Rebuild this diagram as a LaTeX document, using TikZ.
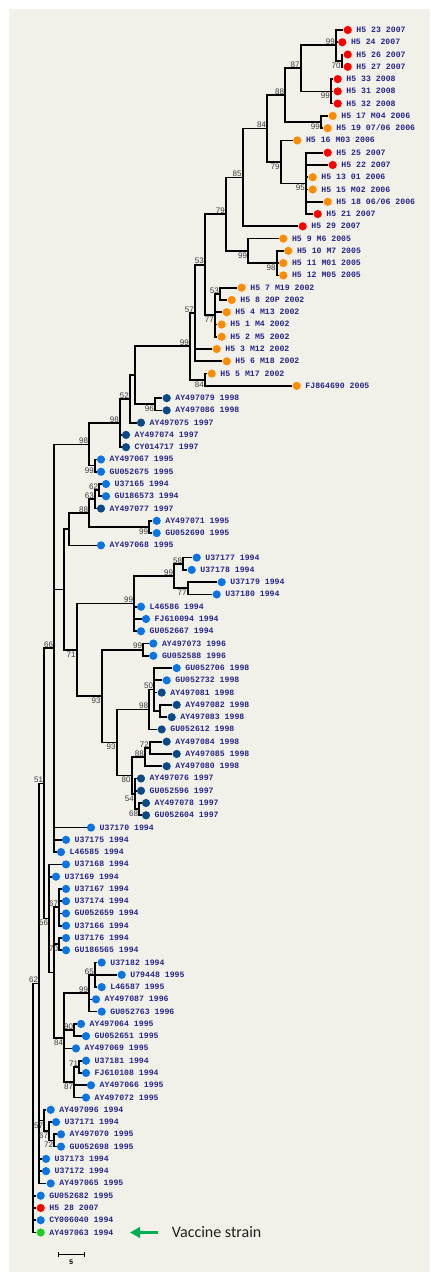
\documentclass[tikz,border=0pt]{standalone}
\usepackage{fontspec}
\usepackage{tikz}
\usetikzlibrary{arrows.meta}
\newfontfamily\taxafont{Liberation Mono}
\newfontfamily\bootfont{Liberation Sans}
\newfontfamily\notefont{Carlito}
\definecolor{paper}{HTML}{F2F1E9}
\definecolor{taxink}{RGB}{38,38,140}
\definecolor{bootink}{HTML}{3A3A3A}
\definecolor{h5red}{HTML}{FF0000}
\definecolor{h5orange}{HTML}{FF8C00}
\definecolor{oldblue}{HTML}{0A74E3}
\definecolor{navyblue}{HTML}{0B4A88}
\definecolor{vaccgreen}{HTML}{22CC22}
\definecolor{arrowgreen}{HTML}{00B050}
\newcommand{\taxon}[4]{\node[#1, label={[taxlab]right:#4}] (#2) at (#3) {};}

\begin{document}
\begin{tikzpicture}[x=1pt, y=-12.27pt, label distance=4.2pt,
    branch/.style={line width=1.7pt, black},
    taxdot/.style={circle, inner sep=0pt, minimum size=8.2pt},
    reddot/.style={taxdot, fill=h5red},
    orangedot/.style={taxdot, fill=h5orange},
    bluedot/.style={taxdot, fill=oldblue},
    navydot/.style={taxdot, fill=navyblue},
    greendot/.style={taxdot, fill=vaccgreen},
    taxlab/.style={font=\taxafont\bfseries\fontsize{8.2pt}{9pt}\selectfont, text=taxink, inner sep=0pt, text height=5pt, text depth=0pt},
    bsup/.style={font=\bootfont\fontsize{8pt}{9pt}\selectfont, text=bootink, inner sep=0pt, text height=5.7pt, text depth=0pt, anchor=east, xshift=-1pt, yshift=3.6pt},
    bsdown/.style={bsup, yshift=-8.2pt},
    note/.style={font=\notefont\fontsize{16pt}{18pt}\selectfont, text=black!88, inner sep=0pt, anchor=west}]

    % Frame
    \useasboundingbox (0,-1.445) rectangle (430,102.22);
    \fill[white] (0,-1.445) rectangle (430,102.22);
    \fill[paper] (9,-0.712) rectangle (430,102.22);

    % Taxa, top to bottom
    \taxon{reddot}{h5-23}{347.7,1}{H5 23 2007}
    \taxon{reddot}{h5-24}{342.3,2}{H5 24 2007}
    \taxon{reddot}{h5-26}{347.7,3}{H5 26 2007}
    \taxon{reddot}{h5-27}{347.7,4}{H5 27 2007}
    \taxon{reddot}{h5-33}{337.7,5}{H5 33 2008}
    \taxon{reddot}{h5-31}{337.7,6}{H5 31 2008}
    \taxon{reddot}{h5-32}{337.7,7}{H5 32 2008}
    \taxon{orangedot}{h5-17}{332.7,8}{H5 17 M04 2006}
    \taxon{orangedot}{h5-19}{327.7,9}{H5 19 07/06 2006}
    \taxon{orangedot}{h5-16}{297.3,10}{H5 16 M03 2006}
    \taxon{reddot}{h5-25}{327.7,11}{H5 25 2007}
    \taxon{reddot}{h5-22}{332.7,12}{H5 22 2007}
    \taxon{orangedot}{h5-13}{312.7,13}{H5 13 01 2006}
    \taxon{orangedot}{h5-15}{312.7,14}{H5 15 M02 2006}
    \taxon{orangedot}{h5-18}{327.7,15}{H5 18 06/06 2006}
    \taxon{reddot}{h5-21}{317.7,16}{H5 21 2007}
    \taxon{reddot}{h5-29}{302.7,17}{H5 29 2007}
    \taxon{orangedot}{h5-9}{283.3,18}{H5 9 M6 2005}
    \taxon{orangedot}{h5-10}{288.3,19}{H5 10 M7 2005}
    \taxon{orangedot}{h5-11}{283.3,20}{H5 11 M01 2005}
    \taxon{orangedot}{h5-12}{283.3,21}{H5 12 M05 2005}
    \taxon{orangedot}{h5-7}{241.7,22}{H5 7 M19 2002}
    \taxon{orangedot}{h5-8}{231.7,23}{H5 8 20P 2002}
    \taxon{orangedot}{h5-4}{226.7,24}{H5 4 M13 2002}
    \taxon{orangedot}{h5-1}{221.7,25}{H5 1 M4 2002}
    \taxon{orangedot}{h5-2}{221.7,26}{H5 2 M5 2002}
    \taxon{orangedot}{h5-3}{216.7,27}{H5 3 M12 2002}
    \taxon{orangedot}{h5-6}{226.7,28}{H5 6 M18 2002}
    \taxon{orangedot}{h5-5}{211.7,29}{H5 5 M17 2002}
    \taxon{orangedot}{fj864690}{296.7,30}{FJ864690 2005}
    \taxon{navydot}{ay497079}{166.7,31}{AY497079 1998}
    \taxon{navydot}{ay497086}{166.7,32}{AY497086 1998}
    \taxon{navydot}{ay497075}{141,33}{AY497075 1997}
    \taxon{navydot}{ay497074}{126,34}{AY497074 1997}
    \taxon{navydot}{cy014717}{126,35}{CY014717 1997}
    \taxon{bluedot}{ay497067}{101,36}{AY497067 1995}
    \taxon{bluedot}{gu052675}{101,37}{GU052675 1995}
    \taxon{bluedot}{u37165}{106,38}{U37165 1994}
    \taxon{bluedot}{gu186573}{106,39}{GU186573 1994}
    \taxon{navydot}{ay497077}{101,40}{AY497077 1997}
    \taxon{bluedot}{ay497071}{156.7,41}{AY497071 1995}
    \taxon{bluedot}{gu052690}{156.7,42}{GU052690 1995}
    \taxon{bluedot}{ay497068}{101,43}{AY497068 1995}
    \taxon{bluedot}{u37177}{196.7,44}{U37177 1994}
    \taxon{bluedot}{u37178}{191.7,45}{U37178 1994}
    \taxon{bluedot}{u37179}{221.7,46}{U37179 1994}
    \taxon{bluedot}{u37180}{216.7,47}{U37180 1994}
    \taxon{bluedot}{l46586}{141,48}{L46586 1994}
    \taxon{bluedot}{fj610094}{146,49}{FJ610094 1994}
    \taxon{bluedot}{gu052667}{141,50}{GU052667 1994}
    \taxon{bluedot}{ay497073}{153.3,51}{AY497073 1996}
    \taxon{bluedot}{gu052588}{153.3,52}{GU052588 1996}
    \taxon{bluedot}{gu052706}{176.7,53}{GU052706 1998}
    \taxon{bluedot}{gu052732}{166.7,54}{GU052732 1998}
    \taxon{navydot}{ay497081}{161.7,55}{AY497081 1998}
    \taxon{navydot}{ay497082}{176.7,56}{AY497082 1998}
    \taxon{navydot}{ay497083}{171.7,57}{AY497083 1998}
    \taxon{navydot}{gu052612}{161.7,58}{GU052612 1998}
    \taxon{navydot}{ay497084}{166.7,59}{AY497084 1998}
    \taxon{navydot}{ay497085}{176.7,60}{AY497085 1998}
    \taxon{navydot}{ay497080}{166.7,61}{AY497080 1998}
    \taxon{navydot}{ay497076}{141,62}{AY497076 1997}
    \taxon{navydot}{gu052596}{141,63}{GU052596 1997}
    \taxon{navydot}{ay497078}{146,64}{AY497078 1997}
    \taxon{navydot}{gu052604}{146,65}{GU052604 1997}
    \taxon{bluedot}{u37170}{91,66}{U37170 1994}
    \taxon{bluedot}{u37175}{66,67}{U37175 1994}
    \taxon{bluedot}{l46585}{61,68}{L46585 1994}
    \taxon{bluedot}{u37168}{66,69}{U37168 1994}
    \taxon{bluedot}{u37169}{56,70}{U37169 1994}
    \taxon{bluedot}{u37167}{66,71}{U37167 1994}
    \taxon{bluedot}{u37174}{66,72}{U37174 1994}
    \taxon{bluedot}{gu052659}{66,73}{GU052659 1994}
    \taxon{bluedot}{u37166}{66,74}{U37166 1994}
    \taxon{bluedot}{u37176}{66,75}{U37176 1994}
    \taxon{bluedot}{gu186565}{66,76}{GU186565 1994}
    \taxon{bluedot}{u37182}{101.7,77}{U37182 1994}
    \taxon{bluedot}{u79448}{121.7,78}{U79448 1995}
    \taxon{bluedot}{l46587}{101.7,79}{L46587 1995}
    \taxon{bluedot}{ay497087}{96,80}{AY497087 1996}
    \taxon{bluedot}{gu052763}{101.7,81}{GU052763 1996}
    \taxon{bluedot}{ay497064}{81,82}{AY497064 1995}
    \taxon{bluedot}{gu052651}{86,83}{GU052651 1995}
    \taxon{bluedot}{ay497069}{76,84}{AY497069 1995}
    \taxon{bluedot}{u37181}{86,85}{U37181 1994}
    \taxon{bluedot}{fj610108}{86,86}{FJ610108 1994}
    \taxon{bluedot}{ay497066}{91,87}{AY497066 1995}
    \taxon{bluedot}{ay497072}{86,88}{AY497072 1995}
    \taxon{bluedot}{ay497096}{50.7,89}{AY497096 1994}
    \taxon{bluedot}{u37171}{56,90}{U37171 1994}
    \taxon{bluedot}{ay497070}{61,91}{AY497070 1995}
    \taxon{bluedot}{gu052698}{61,92}{GU052698 1995}
    \taxon{bluedot}{u37173}{46,93}{U37173 1994}
    \taxon{bluedot}{u37172}{46,94}{U37172 1994}
    \taxon{bluedot}{ay497065}{50.7,95}{AY497065 1995}
    \taxon{bluedot}{gu052682}{40.7,96}{GU052682 1995}
    \taxon{reddot}{h5-28}{40.7,97}{H5 28 2007}
    \taxon{bluedot}{cy006040}{40.7,98}{CY006040 1994}
    \taxon{greendot}{ay497063}{40.7,99}{AY497063 1994}

    % Inner nodes
    \coordinate (c70a) at (341.7,3.5);
    \coordinate (c99a) at (336,2.25);
    \coordinate (c99b) at (331,6);
    \coordinate (c87) at (300.7,4.125);
    \coordinate (c99c) at (321,8.5);
    \coordinate (c88) at (285.3,6.31);
    \coordinate (c95) at (306,13.5);
    \coordinate (c79a) at (280.7,11.75);
    \coordinate (c84) at (267.3,9.03);
    \coordinate (c85) at (242.7,13.02);
    \coordinate (c98) at (276.7,20);
    \coordinate (c99d) at (248.3,19);
    \coordinate (c79b) at (226,16.01);
    \coordinate (c53b) at (220,22.5);
    \coordinate (c77) at (215,24.25);
    \coordinate (c53) at (205,20.13);
    \coordinate (c57) at (195,24.06);
    \coordinate (c84b) at (205,29.5);
    \coordinate (c99e) at (190,26.78);
    \coordinate (c96) at (155,31.5);
    \coordinate (cx) at (135,29.14);
    \coordinate (c52) at (130,31.07);
    \coordinate (c98b) at (120,33.04);
    \coordinate (c99f) at (95,36.5);
    \coordinate (c98c) at (89.3,34.77);
    \coordinate (c62a) at (99.3,38.5);
    \coordinate (c63) at (95,39.25);
    \coordinate (c99g) at (149.3,41.5);
    \coordinate (c88b) at (89.3,40.38);
    \coordinate (cw) at (69.3,41.69);
    \coordinate (c58) at (183.3,44.5);
    \coordinate (c77b) at (187.7,46.5);
    \coordinate (c99h) at (174.3,45.5);
    \coordinate (c99i) at (134.3,47.75);
    \coordinate (c99j) at (143.3,51.5);
    \coordinate (cv) at (160,56.5);
    \coordinate (c50) at (154.3,54.75);
    \coordinate (c98d) at (149.3,56.38);
    \coordinate (c72) at (150,59.5);
    \coordinate (c88c) at (145,60.25);
    \coordinate (c68) at (139.3,64.5);
    \coordinate (c54) at (135,63.25);
    \coordinate (c80) at (131.7,61.75);
    \coordinate (c93b) at (116.7,59.06);
    \coordinate (c93a) at (101.7,55.28);
    \coordinate (c71) at (76.7,51.52);
    \coordinate (cy) at (64.3,46.6);
    \coordinate (c66) at (54.3,51.38);
    \coordinate (c67) at (59.3,72.5);
    \coordinate (c70b) at (59.3,75.5);
    \coordinate (c65) at (95,78);
    \coordinate (c99k) at (89.3,79.5);
    \coordinate (c90) at (74.3,82.5);
    \coordinate (c71b) at (79.3,85.5);
    \coordinate (c87b) at (74.3,86.75);
    \coordinate (c84c) at (64.3,83.13);
    \coordinate (cz) at (54.3,77.81);
    \coordinate (c56) at (49.3,73.41);
    \coordinate (c51) at (44.3,62.4);
    \coordinate (c72b) at (54.3,91.5);
    \coordinate (c67b) at (49.3,90.75);
    \coordinate (c57b) at (44.3,89.88);
    \coordinate (c62) at (39.3,78.7);
    \coordinate (root) at (33.3,88.85);

    % Branches of the 2002-2008 isolates
    \draw[branch] (c70a) |- (h5-26) (c70a) |- (h5-27);
    \draw[branch] (c99a) |- (h5-23) (c99a) |- (h5-24) (c99a) |- (c70a);
    \draw[branch] (c99b) |- (h5-33) (c99b) |- (h5-31) (c99b) |- (h5-32);
    \draw[branch] (c87) |- (c99a) (c87) |- (c99b);
    \draw[branch] (c99c) |- (h5-17) (c99c) |- (h5-19);
    \draw[branch] (c88) |- (c87) (c88) |- (c99c);
    \draw[branch] (c95) |- (h5-25) (c95) |- (h5-22) (c95) |- (h5-13) (c95) |- (h5-15) (c95) |- (h5-18) (c95) |- (h5-21);
    \draw[branch] (c79a) |- (h5-16) (c79a) |- (c95);
    \draw[branch] (c84) |- (c88) (c84) |- (c79a);
    \draw[branch] (c85) |- (c84) (c85) |- (h5-29);
    \draw[branch] (c98) |- (h5-10) (c98) |- (h5-11) (c98) |- (h5-12);
    \draw[branch] (c99d) |- (h5-9) (c99d) |- (c98);
    \draw[branch] (c79b) |- (c85) (c79b) |- (c99d);
    \draw[branch] (c53b) |- (h5-7) (c53b) |- (h5-8);
    \draw[branch] (c77) |- (c53b) (c77) |- (h5-4) (c77) |- (h5-1) (c77) |- (h5-2);
    \draw[branch] (c53) |- (c79b) (c53) |- (c77);
    \draw[branch] (c57) |- (c53) (c57) |- (h5-3) (c57) |- (h5-6);
    \draw[branch] (c84b) |- (h5-5) (c84b) |- (fj864690);
    \draw[branch] (c99e) |- (c57) (c99e) |- (c84b);

    % Branches of the 1994-1998 isolates
    \draw[branch] (c96) |- (ay497079) (c96) |- (ay497086);
    \draw[branch] (cx) |- (c99e) (cx) |- (c96);
    \draw[branch] (c52) |- (cx) (c52) |- (ay497075);
    \draw[branch] (c98b) |- (c52) (c98b) |- (ay497074) (c98b) |- (cy014717);
    \draw[branch] (c99f) |- (ay497067) (c99f) |- (gu052675);
    \draw[branch] (c98c) |- (c98b) (c98c) |- (c99f);
    \draw[branch] (c62a) |- (u37165) (c62a) |- (gu186573);
    \draw[branch] (c63) |- (c62a) (c63) |- (ay497077);
    \draw[branch] (c99g) |- (ay497071) (c99g) |- (gu052690);
    \draw[branch] (c88b) |- (c63) (c88b) |- (c99g);
    \draw[branch] (cw) |- (c88b) (cw) |- (ay497068);
    \draw[branch] (c58) |- (u37177) (c58) |- (u37178);
    \draw[branch] (c77b) |- (u37179) (c77b) |- (u37180);
    \draw[branch] (c99h) |- (c58) (c99h) |- (c77b);
    \draw[branch] (c99i) |- (c99h) (c99i) |- (l46586) (c99i) |- (fj610094) (c99i) |- (gu052667);
    \draw[branch] (c99j) |- (ay497073) (c99j) |- (gu052588);
    \draw[branch] (cv) |- (ay497082) (cv) |- (ay497083);
    \draw[branch] (c50) |- (gu052706) (c50) |- (gu052732) (c50) |- (ay497081) (c50) |- (cv);
    \draw[branch] (c98d) |- (c50) (c98d) |- (gu052612);
    \draw[branch] (c72) |- (ay497084) (c72) |- (ay497085);
    \draw[branch] (c88c) |- (c72) (c88c) |- (ay497080);
    \draw[branch] (c68) |- (ay497078) (c68) |- (gu052604);
    \draw[branch] (c54) |- (ay497076) (c54) |- (gu052596) (c54) |- (c68);
    \draw[branch] (c80) |- (c88c) (c80) |- (c54);
    \draw[branch] (c93b) |- (c98d) (c93b) |- (c80);
    \draw[branch] (c93a) |- (c99j) (c93a) |- (c93b);
    \draw[branch] (c71) |- (c99i) (c71) |- (c93a);
    \draw[branch] (cy) |- (cw) (cy) |- (c71);
    \draw[branch] (c66) |- (c98c) (c66) |- (cy) (c66) |- (u37170) (c66) |- (u37175) (c66) |- (l46585);
    \draw[branch] (c67) |- (u37167) (c67) |- (u37174) (c67) |- (gu052659) (c67) |- (u37166);
    \draw[branch] (c70b) |- (u37176) (c70b) |- (gu186565);
    \draw[branch] (c65) |- (u37182) (c65) |- (u79448) (c65) |- (l46587);
    \draw[branch] (c99k) |- (c65) (c99k) |- (ay497087) (c99k) |- (gu052763);
    \draw[branch] (c90) |- (ay497064) (c90) |- (gu052651);
    \draw[branch] (c71b) |- (u37181) (c71b) |- (fj610108);
    \draw[branch] (c87b) |- (c71b) (c87b) |- (ay497066) (c87b) |- (ay497072);
    \draw[branch] (c84c) |- (c99k) (c84c) |- (c90) (c84c) |- (ay497069) (c84c) |- (c87b);
    \draw[branch] (cz) |- (c67) (cz) |- (c70b) (cz) |- (c84c);
    \draw[branch] (c56) |- (u37168) (c56) |- (u37169) (c56) |- (cz);
    \draw[branch] (c51) |- (c66) (c51) |- (c56);
    \draw[branch] (c72b) |- (ay497070) (c72b) |- (gu052698);
    \draw[branch] (c67b) |- (u37171) (c67b) |- (c72b);
    \draw[branch] (c57b) |- (ay497096) (c57b) |- (c67b);
    \draw[branch] (c62) |- (c51) (c62) |- (c57b) (c62) |- (u37173) (c62) |- (u37172) (c62) |- (ay497065);
    \draw[branch] (root) |- (c62) (root) |- (gu052682) (root) |- (h5-28) (root) |- (cy006040) (root) |- (ay497063);

    % Bootstrap values
    \node[bsdown] (b70a) at (c70a) {70};
    \node[bsup] (b99a) at (c99a) {99};
    \node[bsdown] (b99b) at (c99b) {99};
    \node[bsup] (b87) at (c87) {87};
    \node[bsdown] (b99c) at (c99c) {99};
    \node[bsup] (b88) at (c88) {88};
    \node[bsdown] (b95) at (c95) {95};
    \node[bsdown] (b79a) at (c79a) {79};
    \node[bsup] (b84) at (c84) {84};
    \node[bsup] (b85) at (c85) {85};
    \node[bsdown] (b98) at (c98) {98};
    \node[bsdown] (b99d) at (c99d) {99};
    \node[bsup] (b79b) at (c79b) {79};
    \node[bsup] (b53b) at (c53b) {53};
    \node[bsdown] (b77) at (c77) {77};
    \node[bsup] (b53) at (c53) {53};
    \node[bsup] (b57) at (c57) {57};
    \node[bsdown] (b84b) at (c84b) {84};
    \node[bsup] (b99e) at (c99e) {99};
    \node[bsdown] (b96) at (c96) {96};
    \node[bsup] (b52) at (c52) {52};
    \node[bsup] (b98b) at (c98b) {98};
    \node[bsdown] (b99f) at (c99f) {99};
    \node[bsup] (b98c) at (c98c) {98};
    \node[bsup] (b62a) at (c62a) {62};
    \node[bsup] (b63) at (c63) {63};
    \node[bsdown] (b99g) at (c99g) {99};
    \node[bsup] (b88b) at (c88b) {88};
    \node[bsup] (b58) at (c58) {58};
    \node[bsdown] (b77b) at (c77b) {77};
    \node[bsup] (b99h) at (c99h) {99};
    \node[bsup] (b99i) at (c99i) {99};
    \node[bsup] (b99j) at (c99j) {99};
    \node[bsup] (b50) at (c50) {50};
    \node[bsup] (b98d) at (c98d) {98};
    \node[bsup] (b72) at (c72) {72};
    \node[bsup] (b88c) at (c88c) {88};
    \node[bsdown] (b68) at (c68) {68};
    \node[bsdown] (b54) at (c54) {54};
    \node[bsdown] (b80) at (c80) {80};
    \node[bsdown] (b93b) at (c93b) {93};
    \node[bsdown] (b93a) at (c93a) {93};
    \node[bsdown] (b71) at (c71) {71};
    \node[bsup] (b66) at (c66) {66};
    \node[bsup] (b67) at (c67) {67};
    \node[bsdown] (b70b) at (c70b) {70};
    \node[bsup] (b65) at (c65) {65};
    \node[bsup] (b99k) at (c99k) {99};
    \node[bsup] (b90) at (c90) {90};
    \node[bsup] (b71b) at (c71b) {71};
    \node[bsdown] (b87b) at (c87b) {87};
    \node[bsdown] (b84c) at (c84c) {84};
    \node[bsdown] (b56) at (c56) {56};
    \node[bsup] (b51) at (c51) {51};
    \node[bsdown] (b72b) at (c72b) {72};
    \node[bsdown] (b67b) at (c67b) {67};
    \node[bsdown] (b57b) at (c57b) {57};
    \node[bsup] (b62) at (c62) {62};

    % Vaccine strain pointer
    \node[note] (vaccine) at (171.7,99) {Vaccine strain};
    \coordinate (vaccine-tip) at (130,99);
    \draw[-{Triangle[length=10pt,width=10.5pt]}, line width=3pt, arrowgreen, shorten <=13.4pt] (vaccine) -- (vaccine-tip);

    % Scale bar
    \coordinate (bar-l) at (58.3,100.78);
    \coordinate (bar-r) at (84.3,100.78);
    \draw[line width=0.9pt] (bar-l) -- (bar-r);
    \draw[line width=0.9pt] ([yshift=2.2pt]bar-l) -- ([yshift=-2.2pt]bar-l);
    \draw[line width=0.9pt] ([yshift=2.2pt]bar-r) -- ([yshift=-2.2pt]bar-r);
    \node[font=\taxafont\bfseries\fontsize{7pt}{8pt}\selectfont, inner sep=0pt] (bar-text) at (71.3,101.42) {5};
\end{tikzpicture}
\end{document}
